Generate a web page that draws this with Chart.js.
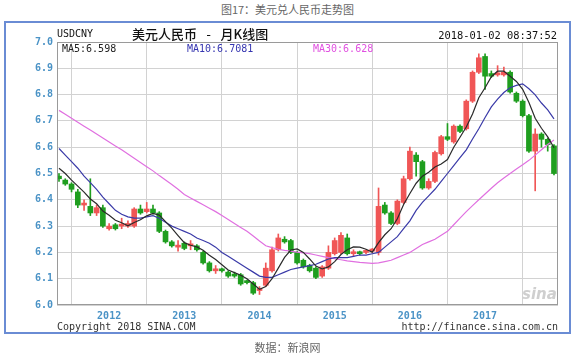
<!DOCTYPE html>
<html><head><meta charset="utf-8">
<script src="https://cdn.jsdelivr.net/npm/chart.js@4/dist/chart.umd.min.js"></script>
<style>
html,body{margin:0;padding:0;background:#fff;width:575px;height:357px;overflow:hidden;}
body{position:relative;font-family:"DejaVu Sans Mono",monospace;}
#frame{position:absolute;left:4px;top:21px;width:563px;height:309px;border:2px solid #6a8cd4;box-sizing:content-box;}
#c{position:absolute;left:0;top:0;}
.t{position:absolute;white-space:nowrap;line-height:12px;height:12px;}
.cjk{font-family:"Noto Sans CJK SC",sans-serif;}
.mono{font-family:"DejaVu Sans Mono",monospace;font-size:10px;}
</style></head><body>
<div class="t cjk" style="left:0;width:575px;top:3px;text-align:center;font-size:11px;color:#666;">图17：美元兑人民币走势图</div>
<div id="frame"></div>
<canvas id="c" width="575" height="357" style="width:575px;height:357px"></canvas>
<div class="t mono" style="left:57px;top:28px;color:#111;">USDCNY</div>
<div class="t cjk" style="left:132px;top:27px;font-size:13px;line-height:14px;color:#111;font-weight:500;">美元人民币<span style="font-family:'DejaVu Sans Mono',monospace;white-space:pre;"> - </span>月K线图</div>
<div class="t mono" style="right:18px;top:29px;color:#111;font-size:10.4px;">2018-01-02 08:37:52</div>
<div class="t mono" style="left:62px;top:43px;color:#222;">MA5:6.598</div>
<div class="t mono" style="left:187px;top:43px;color:#3535b0;">MA10:6.7081</div>
<div class="t mono" style="left:313px;top:43px;color:#e050e0;">MA30:6.628</div>
<div class="t" style="left:522px;top:286px;font-family:'DejaVu Sans',sans-serif;font-style:italic;font-weight:bold;font-size:15px;line-height:16px;height:16px;color:#cfcfcf;">sina</div>
<div class="t mono" style="left:57px;top:321px;color:#333;">Copyright 2018 SINA.COM</div>
<div class="t mono" style="right:17px;top:321px;color:#333;">http://finance.sina.com.cn</div>
<div class="t cjk" style="left:0;width:575px;top:341px;text-align:center;font-size:11px;color:#666;">数据：新浪网</div>
<script>
// Monthly USD/CNY candles, May 2011 – Dec 2017
const months = [
 '2011-05','2011-06','2011-07','2011-08','2011-09','2011-10','2011-11','2011-12',
 '2012-01','2012-02','2012-03','2012-04','2012-05','2012-06','2012-07','2012-08','2012-09','2012-10','2012-11','2012-12',
 '2013-01','2013-02','2013-03','2013-04','2013-05','2013-06','2013-07','2013-08','2013-09','2013-10','2013-11','2013-12',
 '2014-01','2014-02','2014-03','2014-04','2014-05','2014-06','2014-07','2014-08','2014-09','2014-10','2014-11','2014-12',
 '2015-01','2015-02','2015-03','2015-04','2015-05','2015-06','2015-07','2015-08','2015-09','2015-10','2015-11','2015-12',
 '2016-01','2016-02','2016-03','2016-04','2016-05','2016-06','2016-07','2016-08','2016-09','2016-10','2016-11','2016-12',
 '2017-01','2017-02','2017-03','2017-04','2017-05','2017-06','2017-07','2017-08','2017-09','2017-10','2017-11','2017-12'];
const openP = [6.49,6.475,6.46,6.43,6.38,6.375,6.35,6.37,
 6.29,6.305,6.30,6.30,6.30,6.365,6.355,6.365,6.35,6.28,6.24,6.22,
 6.235,6.225,6.225,6.20,6.16,6.13,6.135,6.125,6.115,6.115,6.09,6.085,
 6.055,6.075,6.13,6.21,6.25,6.245,6.20,6.17,6.15,6.14,6.11,6.14,
 6.195,6.20,6.255,6.195,6.20,6.20,6.205,6.20,6.38,6.35,6.31,6.39,
 6.48,6.57,6.545,6.445,6.47,6.575,6.64,6.62,6.68,6.67,6.775,6.885,
 6.945,6.88,6.875,6.875,6.885,6.805,6.775,6.72,6.585,6.65,6.63,6.605];
const closeP = [6.48,6.46,6.44,6.38,6.385,6.35,6.37,6.30,
 6.30,6.29,6.305,6.31,6.365,6.35,6.365,6.35,6.28,6.24,6.225,6.225,
 6.215,6.23,6.21,6.16,6.13,6.135,6.13,6.11,6.11,6.08,6.085,6.045,
 6.06,6.14,6.21,6.255,6.24,6.20,6.16,6.145,6.13,6.105,6.145,6.20,
 6.245,6.265,6.195,6.20,6.195,6.205,6.21,6.375,6.35,6.31,6.395,6.48,
 6.585,6.545,6.445,6.47,6.58,6.64,6.63,6.68,6.66,6.775,6.885,6.94,
 6.87,6.87,6.88,6.885,6.81,6.775,6.72,6.585,6.65,6.63,6.61,6.50];
const highP = [6.50,6.48,6.465,6.44,6.40,6.48,6.38,6.38,
 6.31,6.31,6.33,6.32,6.37,6.38,6.39,6.38,6.355,6.285,6.245,6.245,
 6.24,6.245,6.23,6.205,6.165,6.15,6.14,6.13,6.125,6.12,6.095,6.09,
 6.07,6.16,6.22,6.27,6.26,6.25,6.205,6.175,6.155,6.145,6.15,6.225,
 6.255,6.275,6.27,6.21,6.205,6.21,6.215,6.445,6.39,6.355,6.40,6.49,
 6.60,6.58,6.55,6.48,6.585,6.645,6.69,6.685,6.685,6.78,6.89,6.955,
 6.955,6.89,6.91,6.905,6.89,6.81,6.78,6.725,6.67,6.655,6.635,6.61];
const lowP = [6.47,6.455,6.43,6.37,6.36,6.34,6.34,6.295,
 6.285,6.285,6.29,6.295,6.295,6.345,6.35,6.345,6.275,6.235,6.22,6.205,
 6.21,6.21,6.205,6.155,6.125,6.12,6.125,6.105,6.105,6.075,6.08,6.04,
 6.04,6.07,6.125,6.205,6.235,6.195,6.155,6.14,6.125,6.10,6.105,6.135,
 6.19,6.195,6.19,6.185,6.19,6.195,6.20,6.19,6.345,6.305,6.305,6.385,
 6.475,6.49,6.44,6.44,6.465,6.57,6.625,6.615,6.655,6.665,6.77,6.88,
 6.82,6.865,6.87,6.87,6.805,6.77,6.715,6.58,6.434,6.60,6.585,6.495];
const ma5 = [6.52,6.50,6.475,6.452,6.429,6.403,6.385,6.357,
 6.341,6.322,6.313,6.301,6.314,6.324,6.339,6.348,6.342,6.317,6.292,6.264,
 6.237,6.227,6.221,6.208,6.189,6.173,6.153,6.133,6.123,6.113,6.10,6.08,
 6.06,6.07,6.10,6.14,6.181,6.209,6.213,6.20,6.175,6.148,6.137,6.145,
 6.165,6.192,6.21,6.221,6.22,6.212,6.201,6.237,6.267,6.29,6.328,6.382,
 6.424,6.463,6.49,6.505,6.525,6.536,6.553,6.60,6.638,6.677,6.726,6.788,
 6.826,6.868,6.889,6.889,6.87,6.85,6.82,6.77,6.71,6.672,6.639,6.598];
const ma10 = [6.595,6.57,6.545,6.52,6.49,6.465,6.44,6.41,
 6.385,6.36,6.345,6.335,6.33,6.33,6.335,6.34,6.33,6.315,6.30,6.29,
 6.28,6.27,6.255,6.245,6.235,6.22,6.20,6.185,6.17,6.155,6.14,6.125,
 6.11,6.105,6.105,6.115,6.125,6.135,6.14,6.145,6.15,6.155,6.165,6.175,
 6.18,6.18,6.18,6.185,6.19,6.19,6.195,6.20,6.22,6.24,6.26,6.29,
 6.32,6.36,6.39,6.415,6.44,6.47,6.50,6.53,6.56,6.59,6.631,6.67,
 6.713,6.753,6.783,6.808,6.826,6.835,6.841,6.822,6.799,6.768,6.742,6.708];
const ma30 = [6.74,6.725,6.71,6.695,6.68,6.665,6.65,6.635,
 6.62,6.605,6.59,6.574,6.558,6.542,6.526,6.51,6.492,6.475,6.458,6.44,
 6.42,6.407,6.394,6.381,6.368,6.355,6.34,6.325,6.31,6.295,6.28,6.262,
 6.243,6.225,6.218,6.212,6.208,6.205,6.201,6.198,6.195,6.19,6.185,6.18,
 6.176,6.172,6.168,6.165,6.162,6.16,6.158,6.16,6.165,6.17,6.18,6.19,
 6.20,6.215,6.23,6.24,6.25,6.265,6.28,6.305,6.33,6.355,6.378,6.40,
 6.422,6.444,6.465,6.483,6.50,6.517,6.533,6.55,6.57,6.59,6.61,6.627];
const yearTicks = ['2012','2013','2014','2015','2016','2017'];
const yTickValues = [6.0,6.1,6.2,6.3,6.4,6.5,6.6,6.7,6.8,6.9,7.0];

const UP = '#f05656', DOWN = '#1f9e1f';
const colors = openP.map((o,i)=> closeP[i] >= o ? UP : DOWN);
const yearPos = yearTicks.map(y => months.indexOf(y + '-01'));

const pts = arr => arr.map((v,i)=>({x:i, y:v}));

const boxPlugin = {
  id:'box',
  afterDatasetsDraw(chart){
    const {ctx, chartArea:a} = chart;
    ctx.save();
    ctx.strokeStyle = '#9a9a9a'; ctx.lineWidth = 1;
    ctx.strokeRect(Math.round(a.left)+0.5, Math.round(a.top)+0.5, Math.round(a.right-a.left)-1, Math.round(a.bottom-a.top)-1);
    ctx.restore();
  }
};

new Chart(document.getElementById('c'), {
  data: {
    datasets: [
      { type:'bar', data: lowP.map((l,i)=>({x:i, y:[l, highP[i]]})), backgroundColor: colors, barThickness:1, grouped:false, order:5 },
      { type:'bar', data: openP.map((o,i)=>({x:i, y:[o, closeP[i]]})), backgroundColor: colors, barThickness:5, minBarLength:2, grouped:false, order:4 },
      { type:'line', data: pts(ma30), borderColor:'#e070e0', borderWidth:1.2, pointRadius:0, tension:0, order:3 },
      { type:'line', data: pts(ma10), borderColor:'#3a3aa8', borderWidth:1.2, pointRadius:0, tension:0, order:2 },
      { type:'line', data: pts(ma5), borderColor:'#2a2a2a', borderWidth:1.2, pointRadius:0, tension:0, order:1 }
    ]
  },
  options: {
    responsive:false, animation:false,
    layout:{ padding:{ left:0, right:17, top:42, bottom:32 } },
    plugins:{ legend:{display:false}, tooltip:{enabled:false} },
    scales:{
      x:{
        type:'linear', min:-0.32, max:79.64, offset:false,
        afterBuildTicks: s => { s.ticks = yearPos.map(v=>({value:v})); },
        afterFit: s => { s.height = 20; },
        grid:{ color:'#d2d2d2', drawTicks:false },
        border:{ display:false },
        ticks:{ padding:5, color:'#4b93c6', font:{family:'DejaVu Sans Mono', size:10, weight:'bold'},
          callback: v => { const k = yearPos.indexOf(v); return k>=0 ? yearTicks[k] : ''; } }
      },
      y:{
        type:'linear', min:6.0, max:7.0,
        afterBuildTicks: s => { s.ticks = yTickValues.map(v=>({value:v})); },
        afterFit: s => { s.width = 57; },
        grid:{ color:'#d2d2d2', drawTicks:false },
        border:{ display:false },
        ticks:{ padding:4, color:'#4b93c6', font:{family:'DejaVu Sans Mono', size:10, weight:'bold'},
          callback: v => Number(v).toFixed(1) }
      }
    }
  },
  plugins:[boxPlugin]
});
</script>
</body></html>
